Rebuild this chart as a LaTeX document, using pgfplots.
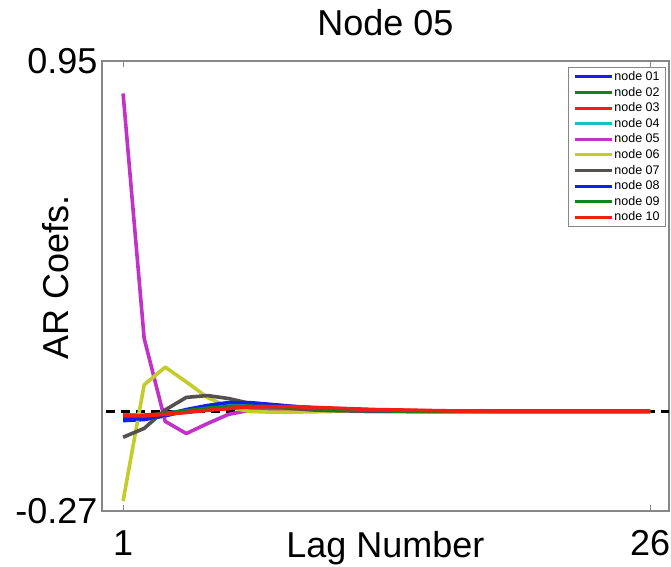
\documentclass[border=0pt]{standalone}
\usepackage{fontspec}
\setmainfont{Liberation Sans}
\usepackage{pgfplots}
\pgfplotsset{compat=1.18}
\definecolor{mblue}{RGB}{20,30,230}
\definecolor{mgreen}{RGB}{20,130,30}
\definecolor{mred}{RGB}{240,30,20}
\definecolor{mcyan}{RGB}{30,190,190}
\definecolor{mmag}{RGB}{195,50,200}
\definecolor{myel}{RGB}{195,205,40}
\definecolor{mgray}{RGB}{85,80,80}
\definecolor{axgray}{RGB}{135,135,135}
\begin{document}
\begin{tikzpicture}
\path[use as bounding box] (-102pt,-55pt) rectangle (569pt,511pt);
\begin{axis}[
  at={(0pt,0pt)}, anchor=south west,
  scale only axis, width=567pt, height=450pt,
  xmin=0, xmax=26.9, ymin=-0.27, ymax=0.95,
  xtick={1,26}, xticklabels={1,26},
  ytick={-0.27,0.95}, yticklabels={-0.27,0.95},
  xtick pos=both, ytick pos=both,
  tick align=inside, major tick length=6pt,
  tick style={draw=axgray, line width=0.8pt},
  axis line style={draw=axgray, line width=1.4pt},
  every tick label/.append style={font=\fontsize{36}{40}\selectfont},
  xticklabel style={anchor=base, yshift=-44pt},
  yticklabel style={anchor=east, xshift=-1pt},
  xlabel={Lag Number},
  xlabel style={font=\fontsize{36}{40}\selectfont, at={([yshift=-46pt]axis description cs:0.5,0)}, anchor=base},
  ylabel={AR Coefs.},
  ylabel style={font=\fontsize{36}{40}\selectfont, at={([xshift=-33pt]axis description cs:0,0.52)}, anchor=base},
  title={Node 05},
  title style={font=\fontsize{36}{40}\selectfont, at={([yshift=20pt]axis description cs:0.5,1)}, anchor=base},
  legend style={at={([xshift=-3pt,yshift=-6pt]rel axis cs:1,1)}, anchor=north east,
    draw=axgray, line width=0.8pt, font=\fontsize{12.5}{14}\selectfont,
    nodes={inner sep=1pt, text height=9pt, text depth=2pt}, row sep=2.6pt,
    inner xsep=5pt, inner ysep=3pt},
  legend image code/.code={\draw[#1, line width=3pt] (0pt,0pt) -- (37pt,0pt);},
  legend cell align=left,
  every axis plot/.append style={line width=3.6pt, line join=round},
]
\addplot[black, line width=3pt, dash pattern=on 9pt off 6pt, forget plot] coordinates {(0.2,0) (26.9,0)};
\addplot[mblue] coordinates {(1,-0.025)(2,-0.022)(3,-0.012)(4,0.002)(5,0.014)(6,0.022)(7,0.022)(8,0.018)(9,0.013)(10,0.009)(11,0.006)(12,0.004)(13,0.002)(14,0.001)(15,0.001)(16,0)(17,0)(18,0)(19,0)(20,0)(21,0)(22,0)(23,0)(24,0)(25,0)(26,0)};
\addlegendentry{node 01}
\addplot[mgreen] coordinates {(1,-0.015)(2,-0.015)(3,-0.008)(4,0.0)(5,0.008)(6,0.013)(7,0.015)(8,0.014)(9,0.011)(10,0.008)(11,0.005)(12,0.003)(13,0.002)(14,0.001)(15,0)(16,0)(17,0)(18,0)(19,0)(20,0)(21,0)(22,0)(23,0)(24,0)(25,0)(26,0)};
\addlegendentry{node 02}
\addplot[mred] coordinates {(1,-0.01)(2,-0.01)(3,-0.006)(4,-0.001)(5,0.004)(6,0.008)(7,0.011)(8,0.012)(9,0.011)(10,0.009)(11,0.007)(12,0.005)(13,0.004)(14,0.003)(15,0.002)(16,0.001)(17,0.001)(18,0)(19,0)(20,0)(21,0)(22,0)(23,0)(24,0)(25,0)(26,0)};
\addlegendentry{node 03}
\addplot[mcyan] coordinates {(1,-0.018)(2,-0.015)(3,-0.006)(4,0.004)(5,0.012)(6,0.016)(7,0.016)(8,0.013)(9,0.01)(10,0.007)(11,0.004)(12,0.002)(13,0.001)(14,0)(15,0)(16,0)(17,0)(18,0)(19,0)(20,0)(21,0)(22,0)(23,0)(24,0)(25,0)(26,0)};
\addlegendentry{node 04}
\addplot[mmag] coordinates {(1,0.862)(2,0.198)(3,-0.027)(4,-0.06)(5,-0.033)(6,-0.008)(7,0.003)(8,0.005)(9,0.004)(10,0.003)(11,0.002)(12,0.001)(13,0)(14,0)(15,0)(16,0)(17,0)(18,0)(19,0)(20,0)(21,0)(22,0)(23,0)(24,0)(25,0)(26,0)};
\addlegendentry{node 05}
\addplot[myel] coordinates {(1,-0.243)(2,0.072)(3,0.12)(4,0.08)(5,0.038)(6,0.012)(7,0.0)(8,-0.002)(9,-0.002)(10,-0.001)(11,0)(12,0)(13,0)(14,0)(15,0)(16,0)(17,0)(18,0)(19,0)(20,0)(21,0)(22,0)(23,0)(24,0)(25,0)(26,0)};
\addlegendentry{node 06}
\addplot[mgray] coordinates {(1,-0.07)(2,-0.046)(3,0.004)(4,0.038)(5,0.043)(6,0.035)(7,0.022)(8,0.014)(9,0.008)(10,0.004)(11,0.002)(12,0.001)(13,0)(14,0)(15,0)(16,0)(17,0)(18,0)(19,0)(20,0)(21,0)(22,0)(23,0)(24,0)(25,0)(26,0)};
\addlegendentry{node 07}
\addplot[mblue] coordinates {(1,-0.02)(2,-0.02)(3,-0.01)(4,0.005)(5,0.016)(6,0.024)(7,0.024)(8,0.019)(9,0.014)(10,0.01)(11,0.006)(12,0.004)(13,0.002)(14,0.001)(15,0)(16,0)(17,0)(18,0)(19,0)(20,0)(21,0)(22,0)(23,0)(24,0)(25,0)(26,0)};
\addlegendentry{node 08}
\addplot[mgreen] coordinates {(1,-0.012)(2,-0.012)(3,-0.006)(4,0.002)(5,0.009)(6,0.013)(7,0.014)(8,0.013)(9,0.011)(10,0.008)(11,0.005)(12,0.003)(13,0.002)(14,0.001)(15,0)(16,0)(17,0)(18,0)(19,0)(20,0)(21,0)(22,0)(23,0)(24,0)(25,0)(26,0)};
\addlegendentry{node 09}
\addplot[mred] coordinates {(1,-0.01)(2,-0.012)(3,-0.008)(4,-0.003)(5,0.003)(6,0.008)(7,0.012)(8,0.013)(9,0.013)(10,0.011)(11,0.009)(12,0.007)(13,0.005)(14,0.004)(15,0.003)(16,0.002)(17,0.001)(18,0.001)(19,0)(20,0)(21,0)(22,0)(23,0)(24,0)(25,0)(26,0)};
\addlegendentry{node 10}
\end{axis}
\end{tikzpicture}
\end{document}
